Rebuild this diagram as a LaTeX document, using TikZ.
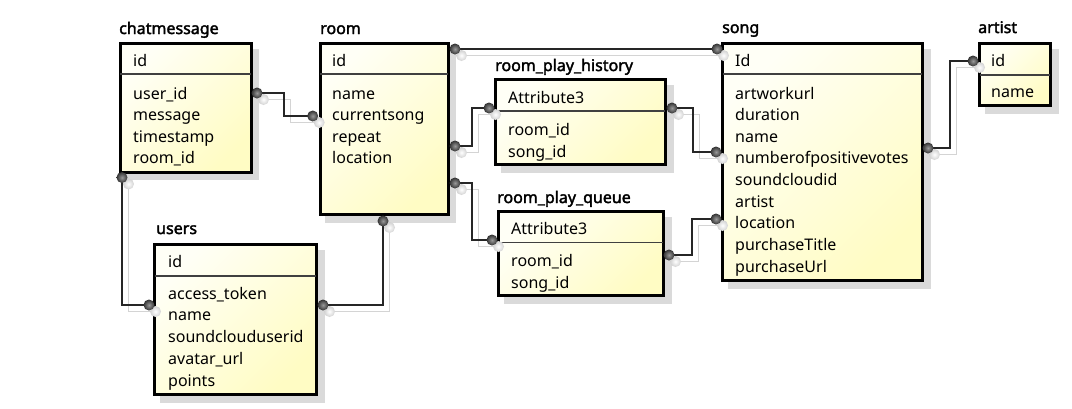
\documentclass[tikz,border=0pt]{standalone}
\usepackage{fontspec}
\setmainfont{Noto Sans}[AutoFakeBold=2.2]
\definecolor{boxtop}{RGB}{255,255,246}
\definecolor{boxbot}{RGB}{255,252,196}
\definecolor{shadowgray}{RGB}{218,218,218}
\tikzset{
  tbl/.style={draw=black, line width=3pt, top color=boxtop, bottom color=boxbot, shading angle=45},
  tshadow/.style={fill=shadowgray, draw=none},
  divider/.style={draw=black!75, line width=1.2pt},
  ttitle/.style={anchor=base west, inner sep=0pt, font=\fontsize{16}{20}\selectfont\bfseries},
  trow/.style={anchor=base west, inner sep=0pt},
  conn/.style={draw=black!85, line width=1.5pt},
  connsh/.style={draw=black!17, line width=1.5pt},
  endp/.style={inner color=black!40, outer color=black!80, draw=none},
  endpsh/.style={inner color=white, outer color=black!18, draw=none},
}
\begin{document}
\begin{tikzpicture}[x=1pt,y=-1pt,font=\fontsize{16}{20}\selectfont]
\useasboundingbox (0,0) rectangle (1072,408);
% ---- table shadows
\begin{scope}[transform canvas={xshift=6.5pt,yshift=-6.5pt}]
\fill[tshadow] (118.5,42) rectangle (252.5,173.5);
\fill[tshadow] (318.5,42) rectangle (449.5,216);
\fill[tshadow] (494,78) rectangle (667,166);
\fill[tshadow] (497,210) rectangle (665,297);
\fill[tshadow] (721,42) rectangle (924,282);
\fill[tshadow] (978,42) rectangle (1052,107);
\fill[tshadow] (153,243) rectangle (318,396);
\end{scope}
% ---- tables
\draw[tbl] (120,43.5) rectangle (251,172);
\draw[divider] (120,74) -- (251,74);
\draw[tbl] (320,43.5) rectangle (448,214.5);
\draw[divider] (320,74) -- (448,74);
\draw[tbl] (495.7,79.7) rectangle (665.3,164.3);
\draw[divider] (495.7,111) -- (665.3,111);
\draw[tbl] (498.7,211.7) rectangle (663.3,295.3);
\draw[divider] (498.7,242.5) -- (663.3,242.5);
\draw[tbl] (722.7,43.7) rectangle (922.3,280.3);
\draw[divider] (722.7,74) -- (922.3,74);
\draw[tbl] (979.7,43.7) rectangle (1050.3,105.3);
\draw[divider] (979.7,75) -- (1050.3,75);
\draw[tbl] (154.7,244.7) rectangle (316.3,394.3);
\draw[divider] (154.7,276) -- (316.3,276);
% ---- titles
\node[ttitle] (t-cm) at (119,34) {chatmessage};
\node[ttitle] (t-room) at (320,34) {room};
\node[ttitle] (t-rph) at (495,71) {room\_play\_history};
\node[ttitle] (t-rpq) at (497,203) {room\_play\_queue};
\node[ttitle] (t-song) at (722,33) {song};
\node[ttitle] (t-artist) at (978,33) {artist};
\node[ttitle] (t-users) at (156,234) {users};
% ---- rows
\node[trow] (cm-h) at (133,66) {id};
\foreach \t [count=\i from 0] in {user\_id,message,timestamp,room\_id}
  \node[trow] (cm-\i) at (133,99+21.6*\i) {\t};
\node[trow] (room-h) at (332,66) {id};
\foreach \t [count=\i from 0] in {name,currentsong,repeat,location}
  \node[trow] (room-\i) at (332,99+21.6*\i) {\t};
\node[trow] (rph-h) at (508,103) {Attribute3};
\node[trow] (rph-0) at (508,135) {room\_id};
\node[trow] (rph-1) at (508,157) {song\_id};
\node[trow] (rpq-h) at (511,234) {Attribute3};
\node[trow] (rpq-0) at (511,266) {room\_id};
\node[trow] (rpq-1) at (511,288) {song\_id};
\node[trow] (song-h) at (735,66) {Id};
\foreach \t [count=\i from 0] in {artworkurl,duration,name,numberofpositivevotes,soundcloudid,artist,location,purchaseTitle,purchaseUrl}
  \node[trow] (song-\i) at (735,99+21.65*\i) {\t};
\node[trow] (artist-h) at (991,66) {id};
\node[trow] (artist-0) at (991,97) {name};
\node[trow] (users-h) at (168,267) {id};
\foreach \t [count=\i from 0] in {access\_token,name,soundclouduserid,avatar\_url,points}
  \node[trow] (users-\i) at (168,299+21.75*\i) {\t};
% ---- connector end points
\coordinate (a1) at (257,93);  \coordinate (b1) at (312.7,116);
\coordinate (a2) at (122,177.5); \coordinate (b2) at (149,305);
\coordinate (a3) at (323,305); \coordinate (b3) at (383,221);
\coordinate (a4) at (455,49);  \coordinate (b4) at (717,49);
\coordinate (a5) at (455,146); \coordinate (b5) at (489,108);
\coordinate (a6) at (672,108); \coordinate (b6) at (716,152);
\coordinate (a7) at (455,183); \coordinate (b7) at (492,240);
\coordinate (a8) at (669,255); \coordinate (b8) at (716,219);
\coordinate (a9) at (928,148); \coordinate (b9) at (973,61);
% ---- connector shadows
\begin{scope}[transform canvas={xshift=6.5pt,yshift=-6.5pt}]
\draw[connsh] (a1) -- (284,93) |- (b1);
\draw[connsh] (a2) |- (b2);
\draw[connsh] (a3) -| (b3);
\draw[connsh] (a4) -- (b4);
\draw[connsh] (a5) -- (472,146) |- (b5);
\draw[connsh] (a6) -- (693,108) |- (b6);
\draw[connsh] (a7) -- (472,183) |- (b7);
\draw[connsh] (a8) -- (692,255) |- (b8);
\draw[connsh] (a9) -- (950,148) |- (b9);
\foreach \p in {a1,b1,a2,b2,a3,b3,a4,b4,a5,b5,a6,b6,a7,b7,a8,b8,a9,b9}
  \shade[endpsh] (\p) circle (5.5);
\end{scope}
% ---- connectors
\draw[conn] (a1) -- (284,93) |- (b1);
\draw[conn] (a2) |- (b2);
\draw[conn] (a3) -| (b3);
\draw[conn] (a4) -- (b4);
\draw[conn] (a5) -- (472,146) |- (b5);
\draw[conn] (a6) -- (693,108) |- (b6);
\draw[conn] (a7) -- (472,183) |- (b7);
\draw[conn] (a8) -- (692,255) |- (b8);
\draw[conn] (a9) -- (950,148) |- (b9);
\foreach \p in {a1,b1,a2,b2,a3,b3,a4,b4,a5,b5,a6,b6,a7,b7,a8,b8,a9,b9}
  \shade[endp] (\p) circle (5.5);
\end{tikzpicture}
\end{document}
